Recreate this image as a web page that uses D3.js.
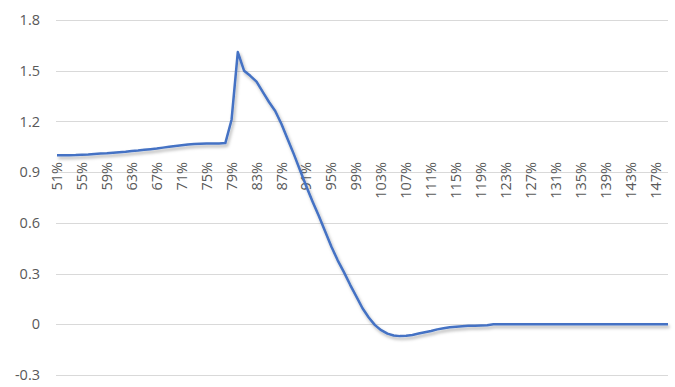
<!DOCTYPE html>
<html>
<head>
<meta charset="utf-8">
<script src="https://cdn.jsdelivr.net/npm/d3@7"></script>
<style>
  body { margin: 0; background: #fff; }
</style>
</head>
<body>
<script>
var width = 675;
var height = 387;

// Categories 51% .. 149%.
var categories = d3.range(51, 150);

// Values, one per category.
var values = [
  1.000, 1.000, 1.000, 1.001, 1.003, 1.005, 1.008, 1.010, 1.012, 1.015,
  1.018, 1.021, 1.025, 1.028, 1.032, 1.036, 1.040, 1.045, 1.050, 1.055,
  1.059, 1.063, 1.066, 1.068, 1.070, 1.070, 1.070, 1.072, 1.210, 1.610,
  1.500, 1.470, 1.435, 1.375, 1.315, 1.262, 1.185, 1.095, 1.005, 0.910,
  0.815, 0.725, 0.640, 0.550, 0.460, 0.380, 0.310, 0.235, 0.165, 0.095,
  0.040, -0.005, -0.035, -0.055, -0.066, -0.070, -0.068, -0.063, -0.055, -0.047,
  -0.040, -0.030, -0.023, -0.018, -0.014, -0.011, -0.009, -0.008, -0.007, -0.006,
  0, 0, 0, 0, 0, 0, 0, 0, 0, 0,
  0, 0, 0, 0, 0, 0, 0, 0, 0, 0,
  0, 0, 0, 0, 0, 0, 0, 0, 0
];

var yTicks = [-0.3, 0, 0.3, 0.6, 0.9, 1.2, 1.5, 1.8];
var xLabelEvery = 4;

var svg = d3.select('body')
  .append('svg')
  .attr('width', width)
  .attr('height', height);

// Soft shadow under the line.
var defs = svg.append('defs');
defs.append('filter')
  .attr('id', 'shadow')
  .attr('x', '-5%').attr('y', '-5%')
  .attr('width', '110%').attr('height', '120%')
  .append('feDropShadow')
  .attr('dx', 1.5)
  .attr('dy', 2.5)
  .attr('stdDeviation', 1.5)
  .attr('flood-color', '#000')
  .attr('flood-opacity', 0.3);

// Scales.
var x = d3.scalePoint()
  .domain(categories)
  .range([57, 668]);

var y = d3.scaleLinear()
  .domain([-0.3, 1.8])
  .range([375, 20]);

// Grid lines.
svg.append('g')
  .selectAll('line')
  .data(yTicks)
  .enter().append('line')
  .attr('x1', 56)
  .attr('x2', 668)
  .attr('y1', function(d) { return Math.round(y(d)) + 0.5; })
  .attr('y2', function(d) { return Math.round(y(d)) + 0.5; })
  .attr('stroke', '#d9d9d9')
  .attr('stroke-width', 1);

// Y labels.
svg.append('g')
  .selectAll('text')
  .data(yTicks)
  .enter().append('text')
  .attr('x', 40)
  .attr('y', function(d) { return y(d); })
  .attr('dy', '0.35em')
  .attr('text-anchor', 'end')
  .attr('font-family', 'Open Sans, sans-serif')
  .attr('font-size', 14.5)
  .attr('fill', '#595959')
  .text(function(d) { return d; });

// Category labels, rotated, every 4th.
svg.append('g')
  .selectAll('text')
  .data(categories.filter(function(d, i) { return i % xLabelEvery === 0; }))
  .enter().append('text')
  .attr('transform', function(d) { return 'translate(' + x(d) + ',162) rotate(-90)'; })
  .attr('dy', '0.35em')
  .attr('text-anchor', 'end')
  .attr('font-family', 'Open Sans, sans-serif')
  .attr('font-size', 14.5)
  .attr('fill', '#595959')
  .text(function(d) { return d + '%'; });

// The line.
var line = d3.line()
  .x(function(d, i) { return x(categories[i]); })
  .y(function(d) { return y(d); });

svg.append('path')
  .datum(values)
  .attr('d', line)
  .attr('fill', 'none')
  .attr('stroke', '#4472c4')
  .attr('stroke-width', 2.5)
  .attr('stroke-linejoin', 'round')
  .attr('filter', 'url(#shadow)');
</script>
</body>
</html>
